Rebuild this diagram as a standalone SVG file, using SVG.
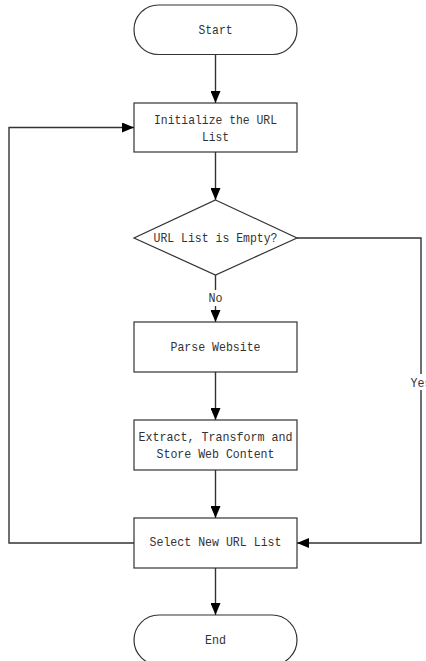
<svg xmlns="http://www.w3.org/2000/svg" width="426" height="661" viewBox="0 0 426 661">
<style>
.n{fill:#fff;stroke:#333;stroke-width:1.2}
.c{fill:none;stroke:#333;stroke-width:1.4}
.t{font-family:"Liberation Mono","DejaVu Sans Mono",monospace;font-size:13px;fill:#333;text-anchor:middle}
</style>
<defs>
<marker id="ah" viewBox="0 0 12 10" refX="12" refY="5" markerWidth="12" markerHeight="10" markerUnits="userSpaceOnUse" orient="auto">
<path d="M0,0 L12,5 L0,10 Z" fill="#000"/>
</marker>
</defs>
<rect width="426" height="661" fill="#fff"/>
<g id="connectors">
<line class="c" x1="215.5" y1="54.5" x2="215.5" y2="103" marker-end="url(#ah)"/>
<line class="c" x1="215.5" y1="152" x2="215.5" y2="200" marker-end="url(#ah)"/>
<line class="c" x1="215.5" y1="275" x2="215.5" y2="322" marker-end="url(#ah)"/>
<line class="c" x1="215.5" y1="372" x2="215.5" y2="420" marker-end="url(#ah)"/>
<line class="c" x1="215.5" y1="470" x2="215.5" y2="518" marker-end="url(#ah)"/>
<line class="c" x1="215.5" y1="568" x2="215.5" y2="615" marker-end="url(#ah)"/>
<polyline class="c" points="134,543 9,543 9,127.5 134,127.5" marker-end="url(#ah)"/>
<polyline class="c" points="297,238 421,238 421,543 297,543" marker-end="url(#ah)"/>
<rect x="205" y="290" width="21" height="16" fill="#fff"/>
<text class="t" x="215.5" y="302" textLength="14" lengthAdjust="spacingAndGlyphs">No</text>
<rect x="409" y="374" width="17" height="16" fill="#fff"/>
<text class="t" x="421" y="387" textLength="21" lengthAdjust="spacingAndGlyphs">Yes</text>
</g>
<g id="start">
<rect class="n" x="134" y="5" width="163" height="49.5" rx="24.5" ry="24.5"/>
<text class="t" x="215.5" y="34" textLength="34" lengthAdjust="spacingAndGlyphs">Start</text>
</g>
<g id="init">
<rect class="n" x="134" y="103" width="163" height="49"/>
<text class="t" x="215.5" y="124" textLength="123" lengthAdjust="spacingAndGlyphs">Initialize the URL</text>
<text class="t" x="215.5" y="141" textLength="27" lengthAdjust="spacingAndGlyphs">List</text>
</g>
<g id="decision">
<polygon class="n" points="215.5,200 297,238 215.5,275 134,238"/>
<text class="t" x="215.5" y="242" textLength="124" lengthAdjust="spacingAndGlyphs">URL List is Empty?</text>
</g>
<g id="parse">
<rect class="n" x="134" y="322" width="163" height="50"/>
<text class="t" x="215.5" y="351" textLength="90" lengthAdjust="spacingAndGlyphs">Parse Website</text>
</g>
<g id="extract">
<rect class="n" x="134" y="420" width="163" height="50"/>
<text class="t" x="215.5" y="441" textLength="154" lengthAdjust="spacingAndGlyphs">Extract, Transform and</text>
<text class="t" x="215.5" y="458" textLength="118" lengthAdjust="spacingAndGlyphs">Store Web Content</text>
</g>
<g id="select">
<rect class="n" x="134" y="518" width="163" height="50"/>
<text class="t" x="215.5" y="546" textLength="132" lengthAdjust="spacingAndGlyphs">Select New URL List</text>
</g>
<g id="end">
<rect class="n" x="134" y="615" width="163" height="50" rx="25" ry="25"/>
<text class="t" x="215.5" y="644" textLength="21" lengthAdjust="spacingAndGlyphs">End</text>
</g>
</svg>
